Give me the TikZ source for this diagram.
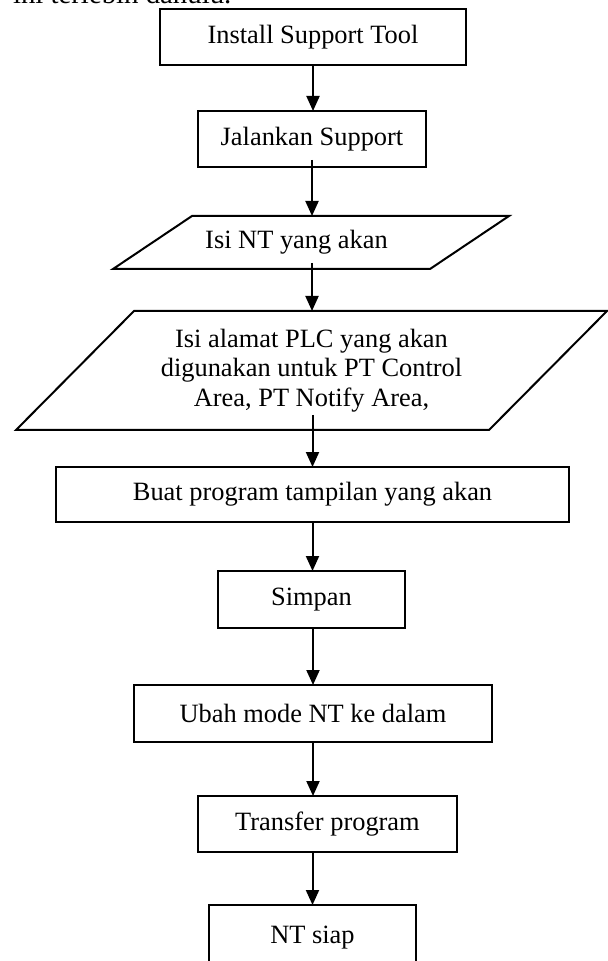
\documentclass[tikz,border=0pt]{standalone}
\usepackage{fontspec}
\setmainfont{Liberation Serif}
\usetikzlibrary{arrows.meta}

% outline of an input/output block around a (hidden) rectangular node
\newcommand\paraoutline[2]{%
  \draw[line width=1pt, line join=miter]
    ([xshift=#2]#1.north west) -- ([xshift=#2]#1.north east) --
    ([xshift=-#2]#1.south east) -- ([xshift=-#2]#1.south west) -- cycle;}

\begin{document}
\begin{tikzpicture}[x=0.5pt, y=-0.5pt,
  every node/.style={font=\fontsize{13.2}{14.75}\selectfont,
                     inner sep=0pt, outer sep=0pt},
  stepbox/.style n args={2}{draw, line width=1pt, rectangle,
                     minimum width=#1, minimum height=#2},
  iobox/.style n args={2}{rectangle, align=center,
                     minimum width=#1, minimum height=#2},
  flow/.style={-{Triangle[length=7.5pt,width=6.5pt]}, line width=1pt}]

\useasboundingbox (0,0) rectangle (608,961);
\clip (0,0) rectangle (608,961);

% running text of the page, cut by the top margin
\node[anchor=base west, font=\fontsize{14.4}{17}\selectfont] (intro) at (13,3.5)
  {ini terlebih dahulu.};

% process steps
\node[stepbox={153pt}{28pt}]   (install)  at (313,37)    {Install Support Tool};
\node[stepbox={114pt}{28pt}]   (jalan)    at (312,139)   {Jalankan Support};
\node[iobox={158.5pt}{26.5pt}] (isint)    at (311,242.5) {Isi NT yang akan\hspace*{14.5pt}};
\node[iobox={236.5pt}{59.5pt}] (isiplc)   at (311.5,370.5)
  {Isi alamat PLC yang akan\\digunakan untuk PT Control\\Area, PT Notify Area,};
\node[stepbox={256.5pt}{27.5pt}] (buat)   at (312.5,494.5) {Buat program tampilan yang akan};
\node[stepbox={93.5pt}{28.5pt}]  (simpan) at (311.5,599.5) {Simpan};
\node[stepbox={179pt}{28.5pt}]   (ubah)   at (313,713.5)   {Ubah mode NT ke dalam};
\node[stepbox={129.5pt}{28pt}]   (transfer) at (327.5,824) {Transfer program};
\node[stepbox={103.5pt}{32.5pt}] (siap)   at (312.5,937.5) {NT siap};

\paraoutline{isint}{19.75pt}
\paraoutline{isiplc}{29.5pt}

% flow arrows
\draw[flow] (install.south) -- (install.south |- jalan.north);
\draw[flow] ([yshift=3.5pt]jalan.south) -- (jalan.south |- isint.north);
\draw[flow] ([xshift=0.5pt,yshift=3pt]isint.south) -- ([xshift=0.5pt]isint.south |- isiplc.north);
\draw[flow] ([xshift=0.5pt,yshift=7.5pt]isiplc.south) -- ([xshift=0.5pt]isiplc.south |- buat.north);
\draw[flow] (buat.south) -- (buat.south |- simpan.north);
\draw[flow] ([xshift=0.75pt]simpan.south) -- (ubah.north);
\draw[flow] (ubah.south) -- (ubah.south |- transfer.north);
\draw[flow] (siap.north |- transfer.south) -- (siap.north);

\end{tikzpicture}
\end{document}
